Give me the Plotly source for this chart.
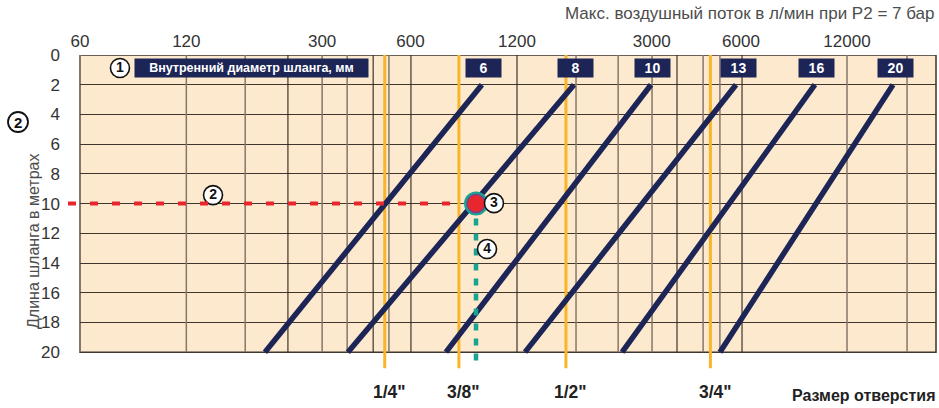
import numpy as np
import plotly.graph_objects as go

# ---------------- data ----------------
hose_diameters = ["6", "8", "10", "13", "16", "20"]          # inner hose diameter, mm
flow_at_2m = [991, 1884, 3224, 5836, 10120, 17450]           # l/min where each line reaches 2 m
flow_at_20m = [218, 389, 771, 1339, 2636, 5215]              # l/min where each line reaches 20 m
len_short = 2
len_long = 20

flow_tick_labels = ["60", "120", "300", "600", "1200", "3000", "6000", "12000"]
flow_tick_pos = [60, 126, 325, 602, 1266, 3240, 6040, 12660]

grid_dark = [256, 464, 604, 1266, 3866, 6085]
grid_light = [126, 190, 325, 387, 518, 1911, 2564, 3248, 4638, 5215, 12660, 19250]

length_ticks = [0, 2, 4, 6, 8, 10, 12, 14, 16, 18, 20]

port_sizes = ['1/4"', '3/8"', '1/2"', '3/4"']
port_flow = [503, 844, 1781, 4880]

example_length = 10
example_flow = 951

# ---------------- styling ----------------
NAVY = "#1C2556"
ORANGE = "#F8B52A"
RED = "#E8262E"
TEAL = "#1AA390"
BEIGE = "#FDEACE"
FONT = "Liberation Sans, Arial, Helvetica, sans-serif"

XR = [np.log10(60), np.log10(60) + 856 / 330]
YR = [21.2, 0]
PW, PH = 856, 315   # plot area size in px

fig = go.Figure()

# vertical grid lines
def vlines(vals):
    xs, ys = [], []
    for v in vals:
        xs += [v, v, None]
        ys += [0, 20, None]
    return xs, ys

xs, ys = vlines(grid_light)
fig.add_trace(go.Scatter(x=xs, y=ys, mode="lines", line=dict(color="#85776a", width=1.5),
                         hoverinfo="skip", showlegend=False))
xs, ys = vlines(grid_dark)
fig.add_trace(go.Scatter(x=xs, y=ys, mode="lines", line=dict(color="#2b241f", width=1.1),
                         hoverinfo="skip", showlegend=False))

# orange port-size lines
for f in port_flow:
    fig.add_trace(go.Scatter(x=[f, f], y=[0, 21.08], mode="lines",
                             line=dict(color=ORANGE, width=3), hoverinfo="skip", showlegend=False))

# hose diameter lines
for d, ft, fb in zip(hose_diameters, flow_at_2m, flow_at_20m):
    fig.add_trace(go.Scatter(x=[fb, ft], y=[len_long, len_short], mode="lines",
                             line=dict(color=NAVY, width=5.5), name=d, showlegend=False))

# teal dashed example line
fig.add_trace(go.Scatter(x=[example_flow, example_flow], y=[example_length + 1.0, 21.08], mode="lines",
                         line=dict(color=TEAL, width=4.5, dash="7px,8px"),
                         hoverinfo="skip", showlegend=False))

# example point
fig.add_trace(go.Scatter(x=[example_flow], y=[example_length], mode="markers",
                         marker=dict(size=24, color=TEAL), hoverinfo="skip", showlegend=False))
fig.add_trace(go.Scatter(x=[example_flow], y=[example_length], mode="markers",
                         marker=dict(size=18, color=RED, line=dict(color="#7B3F8C", width=1.5)),
                         hoverinfo="skip", showlegend=False))

# circled step numbers inside the plot
call_x = [79.3, 151.8, 1078, 1027]
call_y = [0.875, 9.43, 9.97, 13.06]
call_t = ["<b>1</b>", "<b>2</b>", "<b>3</b>", "<b>4</b>"]
fig.add_trace(go.Scatter(x=call_x, y=call_y, mode="markers+text", text=call_t,
                         textposition="middle center",
                         textfont=dict(size=14, color="#111", family=FONT),
                         marker=dict(size=19, color="white", line=dict(color="#111", width=1.6)),
                         cliponaxis=False, hoverinfo="skip", showlegend=False))

shapes = [
    dict(type="rect", xref="paper", yref="y", x0=0, x1=1, y0=0, y1=20,
         fillcolor=BEIGE, line=dict(width=0), layer="below"),
    dict(type="rect", xref="paper", yref="y", x0=0, x1=1, y0=0, y1=20,
         fillcolor="rgba(0,0,0,0)", line=dict(color="#3a322b", width=1.5), layer="between"),
    dict(type="line", xref="paper", yref="y", x0=0, x1=0, y0=0, y1=20,
         line=dict(color="#85776a", width=2), layer="between"),
]
dot_paper = (np.log10(example_flow) - XR[0]) / (XR[1] - XR[0])
shapes.append(dict(type="line", xref="paper", yref="y", x0=-12 / PW, x1=dot_paper - 14 / PW,
                   y0=example_length, y1=example_length,
                   line=dict(color=RED, width=4, dash="8px,14px"), layer="above"))

# circled "2" beside the y axis
cx, cy, r = (18 - 80) / PW, (370 - 122) / PH, 10
shapes.append(dict(type="circle", xref="paper", yref="paper",
                   x0=cx - r / PW, x1=cx + r / PW, y0=cy - r / PH, y1=cy + r / PH,
                   fillcolor="white", line=dict(color="#111", width=1.8), layer="above"))

annotations = []
annotations.append(dict(x=cx, xref="paper", y=cy, yref="paper", xanchor="center", yanchor="middle",
                        text="<b>2</b>", showarrow=False,
                        font=dict(size=15, color="#111", family=FONT)))
# diameter labels
annotations.append(dict(x=(251 - 80) / PW, xref="paper", y=0.875, yref="y",
                        xanchor="center", yanchor="middle",
                        text="<b>Внутренний диаметр шланга, мм</b>", showarrow=False,
                        font=dict(size=12.5, color="white", family=FONT),
                        bgcolor=NAVY, width=229, height=14, borderpad=2, align="center"))
for d, ft in zip(hose_diameters, flow_at_2m):
    annotations.append(dict(x=np.log10(ft), xref="x", y=0.875, yref="y", xshift=2,
                            xanchor="center", yanchor="middle",
                            text=f"<b>{d}</b>", showarrow=False,
                            font=dict(size=14, color="white", family=FONT),
                            bgcolor=NAVY, width=31, height=14, borderpad=2, align="center"))
# port size labels
for p, f in zip(port_sizes, port_flow):
    annotations.append(dict(x=np.log10(f), xref="x", y=(370 - 392) / PH, yref="paper", xshift=5,
                            xanchor="center", yanchor="middle",
                            text=f"<b>{p}</b>", showarrow=False,
                            font=dict(size=17.5, color="#222", family=FONT)))
annotations.append(dict(x=(790 - 80) / PW, xref="paper", y=(370 - 395) / PH, yref="paper",
                        xanchor="left", yanchor="middle", text="<b>Размер отверстия</b>", showarrow=False,
                        font=dict(size=16, color="#222", family=FONT)))
annotations.append(dict(x=(936 - 80) / PW, xref="paper", y=(370 - 13) / PH, yref="paper",
                        xanchor="right", yanchor="middle",
                        text="Макс. воздушный поток в л/мин при P2 = 7 бар",
                        showarrow=False, font=dict(size=17, color="#4d4d4d", family=FONT)))
annotations.append(dict(x=(33 - 80) / PW, xref="paper", y=(370 - 242) / PH, yref="paper",
                        xanchor="center", yanchor="middle",
                        text="Длина шланга в метрах", textangle=-90, showarrow=False,
                        font=dict(size=16, color="#4d4d4d", family=FONT)))

fig.update_layout(
    width=939, height=408,
    margin=dict(l=80, r=3, t=55, b=38),
    paper_bgcolor="white", plot_bgcolor="white",
    font=dict(family=FONT, color="#333"),
    shapes=shapes, annotations=annotations,
    showlegend=False,
    xaxis=dict(type="log", range=XR, side="top", tickmode="array",
               tickvals=flow_tick_pos, ticktext=flow_tick_labels,
               showgrid=False, zeroline=False, showline=False, ticks="",
               ticklabelstandoff=4, tickfont=dict(size=17, color="#333")),
    yaxis=dict(range=YR, tickmode="array", tickvals=length_ticks,
               ticktext=[str(v) for v in length_ticks],
               showgrid=True, gridcolor="#3f362e", gridwidth=1.1,
               zeroline=False, showline=False, ticks="",
               ticklabelstandoff=19, tickfont=dict(size=17, color="#333")),
)

fig.write_html("out.html", config={"displayModeBar": False},
               post_script="document.body.style.margin='0';")
